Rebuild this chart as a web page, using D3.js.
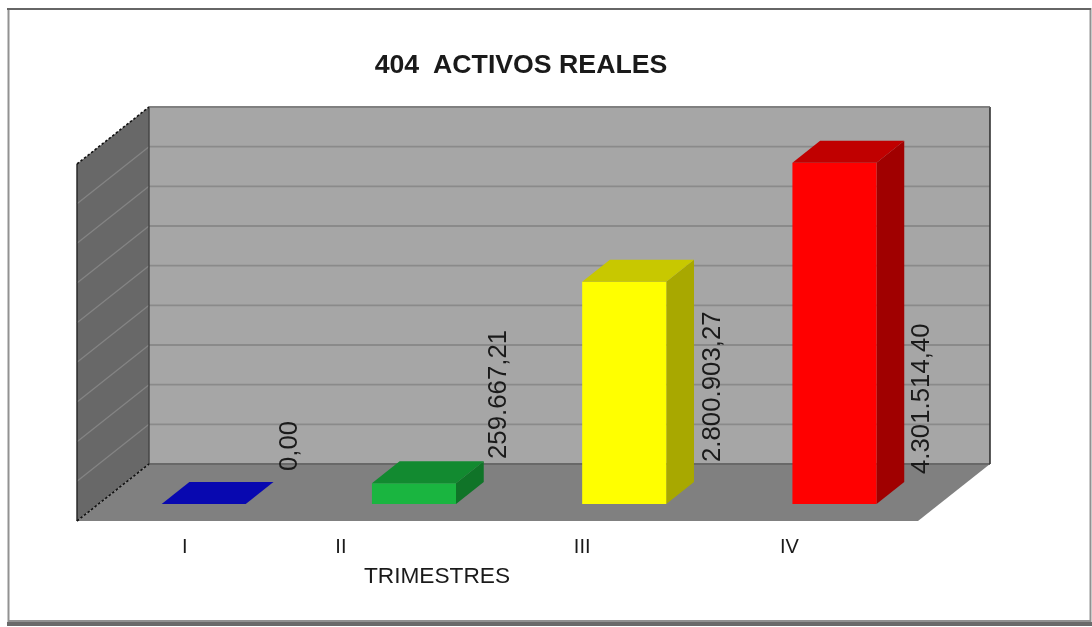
<!DOCTYPE html>
<html>
<head>
<meta charset="utf-8">
<script src="https://cdn.jsdelivr.net/npm/d3@7"></script>
<style>
html, body { margin: 0; padding: 0; background: #fff; }
svg { display: block; filter: blur(0.6px); }
text { font-family: "Liberation Sans", Arial, sans-serif; fill: #1a1a1a; }
</style>
</head>
<body>
<svg id="chart" width="1092" height="627"></svg>
<script>
const TITLE = "404  ACTIVOS REALES";
const AXIS_TITLE = "TRIMESTRES";
const CATEGORIES = ["I", "II", "III", "IV"];
const VALUES = [0, 259667.21, 2800903.27, 4301514.40];
const VALUE_LABELS = ["0,00", "259.667,21", "2.800.903,27", "4.301.514,40"];
const FRONT_COLORS = ["#0808b0", "#1ab540", "#ffff00", "#ff0000"];
const TOP_COLORS = ["#0808b0", "#128a30", "#c8c800", "#c00000"];
const SIDE_COLORS = ["#0808b0", "#107428", "#a8a800", "#a00000"];
const Y_MAX = 4500000;

// 3d box of the plot: front left corner, wall size, depth offset
const X0 = 77, FLOOR = 521, WALL_W = 841, WALL_H = 357, DEPTH_X = 72, DEPTH_Y = 57;
const BAR_Z0 = 0.3, BAR_Z1 = 0.685;

// the picture places these by hand, not on the category centres
const TICK_NUDGE = [-19, -73, -42, -45];
const LABEL_NUDGE = [[17, 471], [15, 459], [19, 462], [18, 474]];

const svg = d3.select("#chart");

const xScale = d3.scaleBand()
	.domain(CATEGORIES)
	.range([0, WALL_W])
	.paddingInner(0.6)
	.paddingOuter(0.3);

const yScale = d3.scaleLinear()
	.domain([0, Y_MAX])
	.range([0, WALL_H]);

// x along the wall, h above floor, z 0 = front and 1 = back
function project(x, h, z) {
	return [X0 + x + DEPTH_X * z, FLOOR - h - DEPTH_Y * z];
}

const poly = d3.line();

function face(points, fill) {
	return svg.append("path")
		.attr("d", poly(points.map(p => project(p[0], p[1], p[2]))) + "Z")
		.attr("fill", fill);
}

// FRAME
// =====
svg.append("rect")
	.attr("x", 8.5).attr("y", 9)
	.attr("width", 1082).attr("height", 612)
	.attr("fill", "#fff")
	.attr("stroke", "#929292")
	.attr("stroke-width", 2);
svg.append("path")
	.attr("d", "M7,9H1091")
	.attr("stroke", "#666").attr("stroke-width", 2).attr("fill", "none");
svg.append("path")
	.attr("d", "M7,624H1092")
	.attr("stroke", "#6a6a6a").attr("stroke-width", 4).attr("fill", "none");

// WALLS
// =====
face([[0, WALL_H, 1], [WALL_W, WALL_H, 1], [WALL_W, 0, 1], [0, 0, 1]], "#a6a6a6");
face([[0, WALL_H, 0], [0, WALL_H, 1], [0, 0, 1], [0, 0, 0]], "#686868");
face([[0, 0, 0], [0, 0, 1], [WALL_W, 0, 1], [WALL_W, 0, 0]], "#808080");

const gridValues = yScale.ticks(9);

svg.append("g")
	.selectAll("path")
	.data(gridValues)
	.join("path")
	.attr("d", d => poly([project(0, yScale(d), 1), project(WALL_W, yScale(d), 1)]))
	.attr("fill", "none")
	.attr("stroke", d => d === 0 ? "#686868" : "#8a8a8a")
	.attr("stroke-width", 1.8);

svg.append("g")
	.selectAll("path")
	.data(gridValues.slice(1, -1))
	.join("path")
	.attr("d", d => poly([project(0, yScale(d), 0), project(0, yScale(d), 1)]))
	.attr("fill", "none")
	.attr("stroke", "#848484")
	.attr("stroke-width", 1.3);

// wall edges
svg.append("path")
	.attr("d", poly([project(0, 0, 0), project(0, WALL_H, 0)]))
	.attr("stroke", "#222").attr("stroke-width", 1.4).attr("fill", "none");
svg.append("path")
	.attr("d", poly([project(0, WALL_H, 1), project(0, 0, 1)]))
	.attr("stroke", "#444").attr("stroke-width", 1.4).attr("fill", "none");
svg.append("path")
	.attr("d", poly([project(WALL_W, WALL_H, 1), project(WALL_W, 0, 1)]))
	.attr("stroke", "#333").attr("stroke-width", 1.6).attr("fill", "none");
svg.append("path")
	.attr("d", poly([project(0, WALL_H, 0), project(0, WALL_H, 1)]))
	.attr("stroke", "#111").attr("stroke-width", 1.6).attr("stroke-dasharray", "2.5 2").attr("fill", "none");
svg.append("path")
	.attr("d", poly([project(0, 0, 0), project(0, 0, 1)]))
	.attr("stroke", "#111").attr("stroke-width", 1.6).attr("stroke-dasharray", "2.5 2").attr("fill", "none");
svg.append("path")
	.attr("d", poly([project(0, WALL_H, 1), project(WALL_W, WALL_H, 1)]))
	.attr("stroke", "#777").attr("stroke-width", 1.2).attr("fill", "none");

// BARS
// ====
CATEGORIES.forEach((c, i) => {
	const x0 = xScale(c);
	const x1 = x0 + xScale.bandwidth();
	const h = yScale(VALUES[i]);
	const lift = yScale(0);

	if (h > lift) {
		face([[x1, lift, BAR_Z0], [x1, lift, BAR_Z1], [x1, h, BAR_Z1], [x1, h, BAR_Z0]], SIDE_COLORS[i]);
		face([[x0, lift, BAR_Z0], [x1, lift, BAR_Z0], [x1, h, BAR_Z0], [x0, h, BAR_Z0]], FRONT_COLORS[i]);
	}
	face([[x0, h, BAR_Z0], [x1, h, BAR_Z0], [x1, h, BAR_Z1], [x0, h, BAR_Z1]], TOP_COLORS[i]);

	const labelX = project(x1, 0, BAR_Z1)[0] + LABEL_NUDGE[i][0];
	svg.append("text")
		.attr("transform", `translate(${labelX}, ${LABEL_NUDGE[i][1]}) rotate(-90)`)
		.attr("dominant-baseline", "middle")
		.attr("font-size", 25.8)
		.text(VALUE_LABELS[i]);

	svg.append("text")
		.attr("x", project(x0, 0, BAR_Z0)[0] + TICK_NUDGE[i] + 42)
		.attr("y", 553)
		.attr("text-anchor", "middle")
		.attr("font-size", 20)
		.text(c);
});

// TITLES
// ======
svg.append("text")
	.attr("x", 521)
	.attr("y", 73)
	.attr("text-anchor", "middle")
	.attr("font-size", 26.7)
	.attr("font-weight", "bold")
	.style("white-space", "pre")
	.text(TITLE);

svg.append("text")
	.attr("x", 437)
	.attr("y", 582.5)
	.attr("text-anchor", "middle")
	.attr("font-size", 22.7)
	.text(AXIS_TITLE);
</script>
</body>
</html>
